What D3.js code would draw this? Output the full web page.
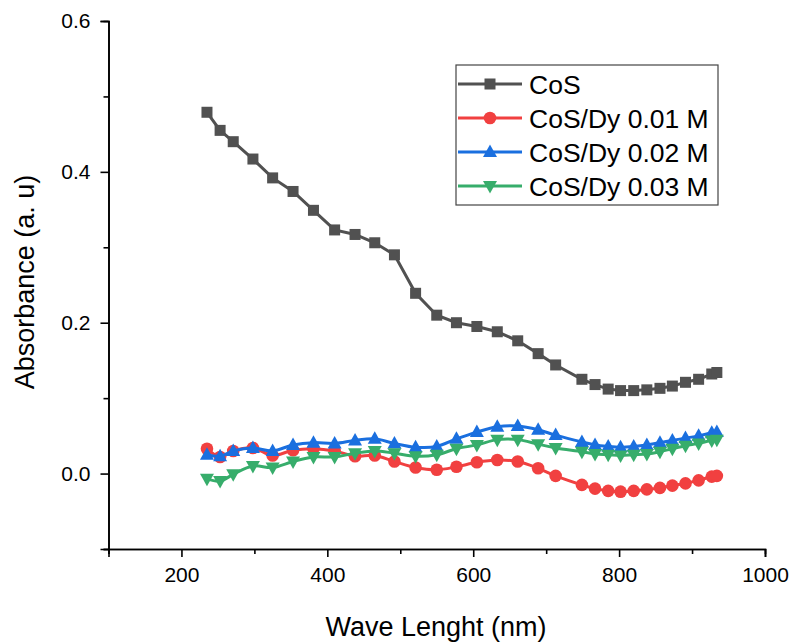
<!DOCTYPE html>
<html><head><meta charset="utf-8">
<script src="https://cdn.jsdelivr.net/npm/d3@7"></script>
<style>body{margin:0;background:#fff}svg{display:block}text{font-family:"Liberation Sans",Arial,sans-serif}</style>
</head><body>
<svg id="c" width="790" height="642"></svg>
<script>
const waveLength = [235, 253, 271, 298, 325, 353, 381, 410, 438, 465, 492, 521, 550, 577, 605, 633, 661, 689, 713, 749, 767, 785, 802, 820, 838, 856, 873, 891, 909, 927, 934];
const cos = [0.479, 0.455, 0.440, 0.417, 0.392, 0.374, 0.349, 0.323, 0.317, 0.306, 0.290, 0.239, 0.210, 0.200, 0.195, 0.188, 0.176, 0.159, 0.144, 0.125, 0.118, 0.112, 0.110, 0.110, 0.111, 0.113, 0.116, 0.121, 0.125, 0.132, 0.134];
const dy001 = [0.033, 0.022, 0.030, 0.034, 0.024, 0.031, 0.033, 0.030, 0.023, 0.024, 0.016, 0.008, 0.005, 0.009, 0.015, 0.018, 0.016, 0.007, -0.003, -0.015, -0.020, -0.023, -0.024, -0.023, -0.021, -0.019, -0.016, -0.013, -0.009, -0.004, -0.003];
const dy002 = [0.025, 0.023, 0.030, 0.034, 0.030, 0.038, 0.041, 0.040, 0.044, 0.046, 0.040, 0.035, 0.036, 0.046, 0.055, 0.062, 0.063, 0.058, 0.051, 0.042, 0.038, 0.036, 0.035, 0.036, 0.038, 0.041, 0.044, 0.047, 0.050, 0.054, 0.055];
const dy003 = [-0.007, -0.010, -0.001, 0.010, 0.008, 0.016, 0.022, 0.022, 0.027, 0.030, 0.027, 0.023, 0.025, 0.033, 0.038, 0.045, 0.045, 0.039, 0.034, 0.029, 0.026, 0.025, 0.024, 0.025, 0.026, 0.029, 0.033, 0.037, 0.040, 0.044, 0.045];
const seriesNames = ["CoS", "CoS/Dy 0.01 M", "CoS/Dy 0.02 M", "CoS/Dy 0.03 M"];
const xTicks = [200, 400, 600, 800, 1000];
const xMinor = [100, 300, 500, 700, 900];
const yTicks = [0.0, 0.2, 0.4, 0.6];
const yMinor = [-0.1, 0.1, 0.3, 0.5];

const colors = ["#515151", "#F14040", "#1A6FDF", "#37AD6B"];
const curves = [d3.curveLinear, d3.curveCatmullRom, d3.curveCatmullRom, d3.curveCatmullRom];
const allY = [cos, dy001, dy002, dy003];

const svg = d3.select("#c");
const x = d3.scaleLinear().domain([100, 1000]).range([108.5, 765]);
const y = d3.scaleLinear().domain([-0.1, 0.6]).range([549, 21]);

function marker(g, i, cx, cy) {
  const c = colors[i];
  if (i === 0) g.append("rect").attr("x", cx-5.5).attr("y", cy-5.5).attr("width", 11).attr("height", 11).attr("fill", c);
  else if (i === 1) g.append("circle").attr("cx", cx).attr("cy", cy).attr("r", 6.3).attr("fill", c);
  else if (i === 2) g.append("path").attr("d", `M${cx},${cy-7.5}L${cx+7},${cy+5}L${cx-7},${cy+5}Z`).attr("fill", c);
  else g.append("path").attr("d", `M${cx},${cy+7.5}L${cx+7},${cy-5}L${cx-7},${cy-5}Z`).attr("fill", c);
}

allY.forEach((vals, i) => {
  const pts = waveLength.map((w, k) => [w, vals[k]]);
  const line = d3.line().x(d => x(d[0])).y(d => y(d[1])).curve(curves[i]);
  const g = svg.append("g");
  g.append("path").attr("d", line(pts)).attr("fill", "none").attr("stroke", colors[i]).attr("stroke-width", 3);
  pts.forEach(p => marker(g, i, x(p[0]), y(p[1])));
});

svg.append("g").attr("transform", "translate(0,549)")
  .call(d3.axisBottom(x).tickValues(xTicks).tickSize(8).tickPadding(10).tickFormat(d3.format("d")));
svg.append("g").attr("transform", "translate(0,549)")
  .call(d3.axisBottom(x).tickValues(xMinor).tickSize(5).tickFormat(""));
svg.append("g").attr("transform", "translate(108.5,0)")
  .call(d3.axisLeft(y).tickValues(yTicks).tickSize(8).tickPadding(10).tickFormat(d3.format(".1f")));
svg.append("g").attr("transform", "translate(108.5,0)")
  .call(d3.axisLeft(y).tickValues(yMinor).tickSize(5).tickFormat(""));
svg.selectAll(".domain").attr("stroke", "#000").attr("stroke-width", 1.6);
svg.selectAll(".tick line").attr("stroke", "#000").attr("stroke-width", 1.6);
svg.selectAll(".tick text").attr("font-size", 21).attr("fill", "#000").attr("font-family", "Liberation Sans, Arial, sans-serif");

svg.append("text").attr("x", 436).attr("y", 636).attr("text-anchor", "middle").attr("font-size", 27).text("Wave Lenght (nm)");
svg.append("text").attr("transform", "translate(34,282) rotate(-90)").attr("text-anchor", "middle").attr("font-size", 27).text("Absorbance (a. u)");

const lg = svg.append("g");
lg.append("rect").attr("x", 456).attr("y", 65).attr("width", 262).attr("height", 140).attr("fill", "#fff").attr("stroke", "#444").attr("stroke-width", 1.2);
seriesNames.forEach((n, i) => {
  const cy = 84 + i * 34;
  lg.append("line").attr("x1", 458).attr("x2", 522).attr("y1", cy).attr("y2", cy).attr("stroke", colors[i]).attr("stroke-width", 3);
  marker(lg, i, 490, cy);
  lg.append("text").attr("x", 529).attr("y", cy + 9.5).attr("font-size", 26.5).text(n);
});
</script>
</body></html>
